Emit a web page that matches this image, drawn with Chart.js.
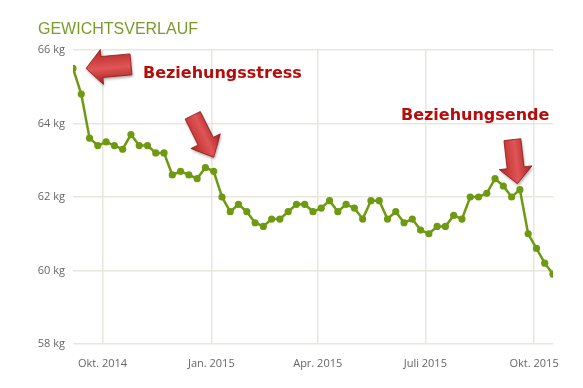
<!DOCTYPE html>
<html>
<head>
<meta charset="utf-8">
<script src="https://cdn.jsdelivr.net/npm/chart.js@4.4.1/dist/chart.umd.min.js"></script>
<style>
  html, body { margin: 0; padding: 0; background: #fff; }
  #wrap { position: relative; width: 583px; height: 388px; overflow: hidden; }
  #title { position: absolute; left: 38px; top: 20px; font: 16px "Liberation Sans", Arial, sans-serif; color: #7b9c2c; white-space: nowrap; }
  canvas { position: absolute; left: 0; top: 0; }
</style>
</head>
<body>
<div id="wrap">
  <canvas id="chart" width="583" height="388"></canvas>
  <div id="title">GEWICHTSVERLAUF</div>
</div>
<script>
// weekly weigh-ins
const dates = [
  '2014-09-06', '2014-09-13', '2014-09-20', '2014-09-27',
  '2014-10-04', '2014-10-11', '2014-10-18', '2014-10-25',
  '2014-11-01', '2014-11-08', '2014-11-15', '2014-11-22', '2014-11-29',
  '2014-12-06', '2014-12-13', '2014-12-20', '2014-12-27',
  '2015-01-03', '2015-01-10', '2015-01-17', '2015-01-24', '2015-01-31',
  '2015-02-07', '2015-02-14', '2015-02-21', '2015-02-28',
  '2015-03-07', '2015-03-14', '2015-03-21', '2015-03-28',
  '2015-04-04', '2015-04-11', '2015-04-18', '2015-04-25',
  '2015-05-02', '2015-05-09', '2015-05-16', '2015-05-23', '2015-05-30',
  '2015-06-06', '2015-06-13', '2015-06-20', '2015-06-27',
  '2015-07-04', '2015-07-11', '2015-07-18', '2015-07-25',
  '2015-08-01', '2015-08-08', '2015-08-15', '2015-08-22', '2015-08-29',
  '2015-09-05', '2015-09-12', '2015-09-19', '2015-09-26',
  '2015-10-03', '2015-10-10', '2015-10-17'
];
const weights = [
  65.5, 64.8, 63.6, 63.4,
  63.5, 63.4, 63.3, 63.7,
  63.4, 63.4, 63.2, 63.2, 62.6,
  62.7, 62.6, 62.5, 62.8,
  62.7, 62.0, 61.6, 61.8, 61.6,
  61.3, 61.2, 61.4, 61.4,
  61.6, 61.8, 61.8, 61.6,
  61.7, 61.9, 61.6, 61.8,
  61.7, 61.4, 61.9, 61.9, 61.4,
  61.6, 61.3, 61.4, 61.1,
  61.0, 61.2, 61.2, 61.5,
  61.4, 62.0, 62.0, 62.1, 62.5,
  62.3, 62.0, 62.2, 61.0,
  60.6, 60.2, 59.9
];

const tickDates = ['2014-10-01', '2015-01-01', '2015-04-01', '2015-07-01', '2015-10-01'];
const tickLabels = ['Okt. 2014', 'Jan. 2015', 'Apr. 2015', 'Juli 2015', 'Okt. 2015'];
const yTicks = [58, 60, 62, 64, 66];

// notes drawn on top: which point the arrow points to
const notes = [
  { text: 'Beziehungsstress', index: 0 },
  { text: null, index: 17 },
  { text: 'Beziehungsende', index: 54 }
];

const green = '#6e9a12';
const gridColor = '#e8e6de';
const noteRed = '#b70c0c';

// ---- HELPERS ----
function toDay(s) {
  const p = s.split('-').map(Number);
  return Date.UTC(p[0], p[1] - 1, p[2]) / 86400000;
}
const day0 = toDay(dates[0]);
const points = dates.map((d, i) => ({ x: toDay(d) - day0, y: weights[i] }));
const tickDays = tickDates.map(d => toDay(d) - day0);

function drawArrow(ctx, tail, tip, shaftW, headW, headL) {
  const dx = tip.x - tail.x, dy = tip.y - tail.y;
  const len = Math.hypot(dx, dy);
  const ux = dx / len, uy = dy / len;
  const nx = -uy, ny = ux;
  const neck = { x: tip.x - ux * headL, y: tip.y - uy * headL };
  const pts = [
    [tail.x + nx * shaftW / 2, tail.y + ny * shaftW / 2],
    [neck.x + nx * shaftW / 2, neck.y + ny * shaftW / 2],
    [neck.x + nx * headW / 2, neck.y + ny * headW / 2],
    [tip.x, tip.y],
    [neck.x - nx * headW / 2, neck.y - ny * headW / 2],
    [neck.x - nx * shaftW / 2, neck.y - ny * shaftW / 2],
    [tail.x - nx * shaftW / 2, tail.y - ny * shaftW / 2]
  ];
  ctx.save();
  const g = ctx.createLinearGradient(
    tail.x - nx * headW / 2, tail.y - ny * headW / 2,
    tail.x + nx * headW / 2, tail.y + ny * headW / 2);
  g.addColorStop(0, '#a51f1f');
  g.addColorStop(0.45, '#e05555');
  g.addColorStop(1, '#b32626');
  ctx.shadowColor = 'rgba(0,0,0,0.35)';
  ctx.shadowBlur = 3;
  ctx.shadowOffsetX = 1;
  ctx.shadowOffsetY = 2;
  ctx.beginPath();
  pts.forEach((p, i) => i ? ctx.lineTo(p[0], p[1]) : ctx.moveTo(p[0], p[1]));
  ctx.closePath();
  ctx.fillStyle = g;
  ctx.fill();
  ctx.shadowColor = 'transparent';
  ctx.strokeStyle = '#8e1616';
  ctx.lineWidth = 0.8;
  ctx.stroke();
  ctx.restore();
}

const notesPlugin = {
  id: 'notes',
  afterDatasetsDraw(chart) {
    const ctx = chart.ctx;
    const meta = chart.getDatasetMeta(0).data;
    const a = meta[notes[0].index], b = meta[notes[1].index], c = meta[notes[2].index];

    // left arrow to the start
    const tip1 = { x: a.x + 13, y: a.y };
    drawArrow(ctx, { x: tip1.x + 45, y: tip1.y - 4 }, tip1, 21, 35, 16);
    // arrow down to early January
    const tip2 = { x: b.x, y: b.y - 14 };
    drawArrow(ctx, { x: tip2.x - 21, y: tip2.y - 42 }, tip2, 17, 33, 18);
    // arrow down to the end of September
    const tip3 = { x: c.x - 2.5, y: c.y - 6 };
    drawArrow(ctx, { x: tip3.x - 5, y: tip3.y - 44 }, tip3, 17, 33, 16);

    ctx.save();
    ctx.fillStyle = noteRed;
    ctx.font = 'bold 16px "DejaVu Sans", sans-serif';
    ctx.textBaseline = 'alphabetic';
    ctx.textAlign = 'left';
    ctx.fillText(notes[0].text, tip1.x + 57, tip1.y + 10);
    ctx.textAlign = 'right';
    ctx.fillText(notes[2].text, tip3.x + 32, tip3.y - 64);
    ctx.restore();
  }
};

new Chart(document.getElementById('chart'), {
  type: 'line',
  data: {
    datasets: [{
      data: points,
      borderColor: green,
      backgroundColor: green,
      borderWidth: 2.5,
      pointRadius: 3.6,
      pointBorderWidth: 0,
      pointBackgroundColor: green,
      tension: 0,
      fill: false
    }]
  },
  options: {
    responsive: false,
    animation: false,
    layout: { padding: { left: 0, right: 30, top: 50, bottom: 0 } },
    plugins: { legend: { display: false }, tooltip: { enabled: false }, title: { display: false } },
    scales: {
      x: {
        type: 'linear',
        min: points[0].x,
        max: points[points.length - 1].x,
        afterBuildTicks: (scale) => { scale.ticks = tickDays.map(v => ({ value: v })); },
        afterFit: (scale) => { scale.height = 44; },
        border: { display: false },
        grid: { color: gridColor, lineWidth: 1.5, drawTicks: false },
        ticks: {
          autoSkip: false,
          maxRotation: 0,
          padding: 13,
          color: '#666',
          font: { family: '"Open Sans", sans-serif', size: 11 },
          callback: (v, i) => tickLabels[i]
        }
      },
      y: {
        min: yTicks[0],
        max: yTicks[yTicks.length - 1],
        afterBuildTicks: (scale) => { scale.ticks = yTicks.map(v => ({ value: v })); },
        afterFit: (scale) => { scale.width = 73; },
        border: { display: false },
        grid: { color: gridColor, lineWidth: 1.5, drawTicks: false },
        ticks: {
          padding: 8,
          color: '#666',
          font: { family: '"Open Sans", sans-serif', size: 11 },
          callback: (v) => v + ' kg'
        }
      }
    }
  },
  plugins: [notesPlugin]
});
</script>
</body>
</html>
